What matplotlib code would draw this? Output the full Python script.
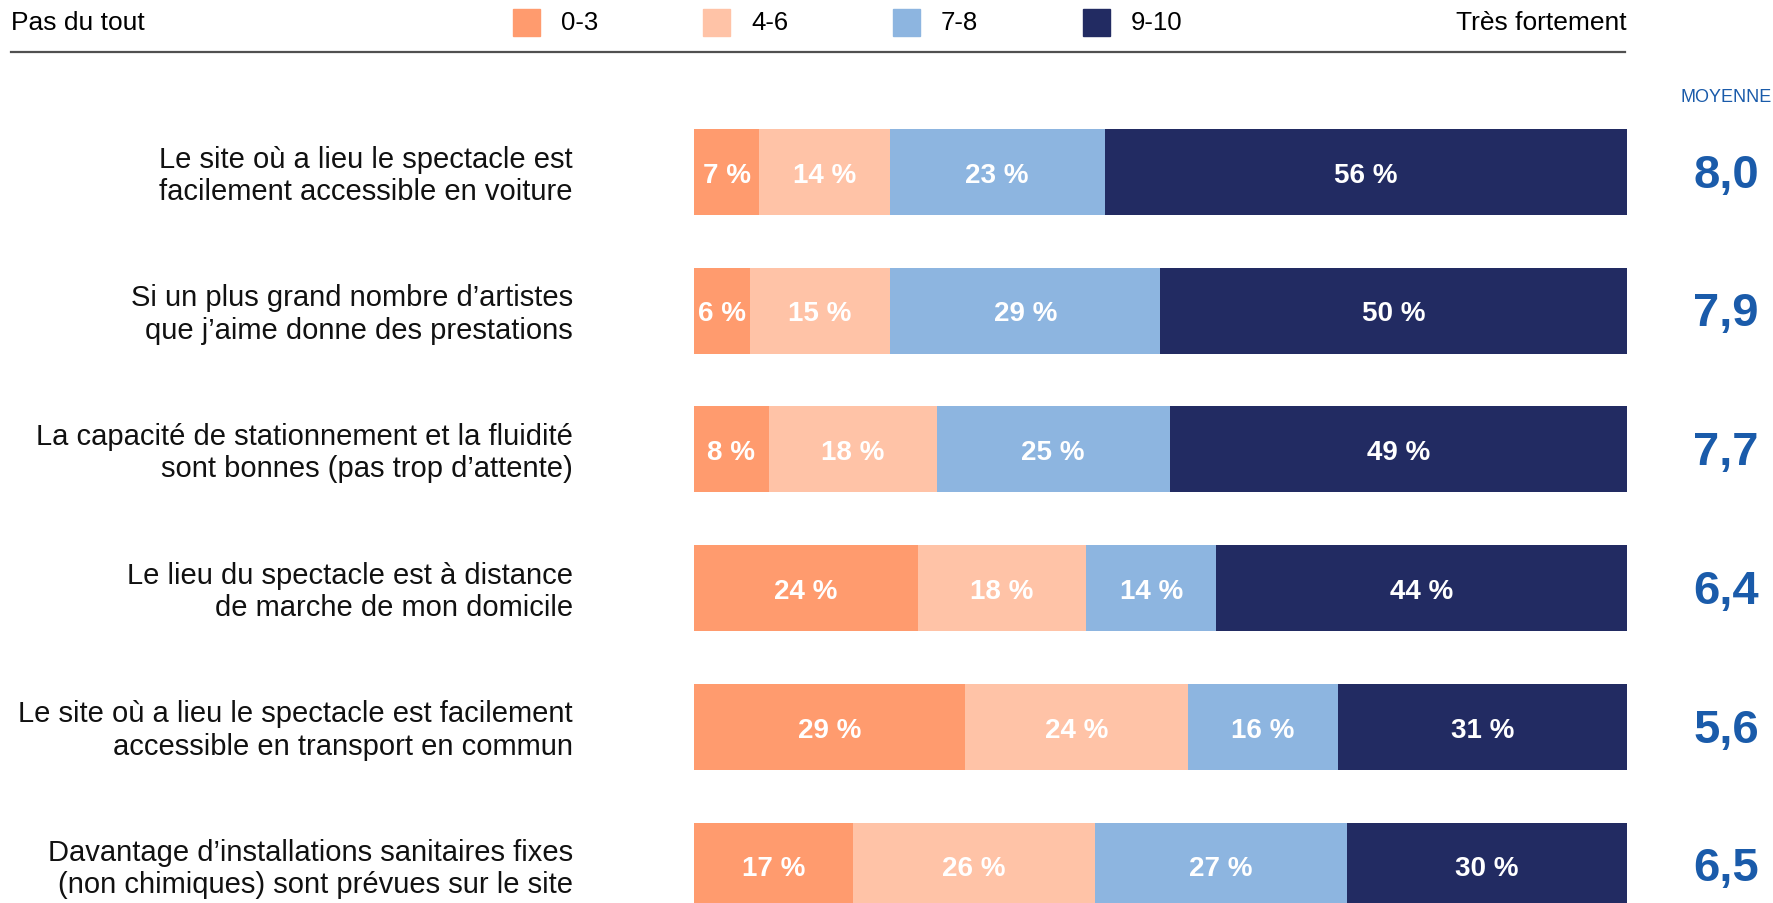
import numpy as np
import matplotlib.pyplot as plt
from matplotlib.patches import Rectangle
from matplotlib.lines import Line2D

plt.rcParams['font.family'] = ['Liberation Sans', 'DejaVu Sans']

# données
categories = [
    "Le site où a lieu le spectacle est\nfacilement accessible en voiture",
    "Si un plus grand nombre d’artistes\nque j’aime donne des prestations",
    "La capacité de stationnement et la fluidité\nsont bonnes (pas trop d’attente)",
    "Le lieu du spectacle est à distance\nde marche de mon domicile",
    "Le site où a lieu le spectacle est facilement\naccessible en transport en commun",
    "Davantage d’installations sanitaires fixes\n(non chimiques) sont prévues sur le site",
]
groups = ["0-3", "4-6", "7-8", "9-10"]
pct_03 = [7, 6, 8, 24, 29, 17]
pct_46 = [14, 15, 18, 18, 24, 26]
pct_78 = [23, 29, 25, 14, 16, 27]
pct_910 = [56, 50, 49, 44, 31, 30]
moyennes = ["8,0", "7,9", "7,7", "6,4", "5,6", "6,5"]

colors = ["#FF9B6E", "#FFC3A7", "#8DB5E0", "#222B62"]
blue_txt = "#1A5BAA"

W, H = 1774, 904
fig = plt.figure(figsize=(W / 100, H / 100), dpi=100)

# axe des barres (pixels 694 -> 1627 en x, toute la hauteur en y)
ax = fig.add_axes([694 / W, 0, (1627 - 694) / W, 1])
row_px = 138.7
first_px = 173
ax.set_ylim((H - first_px) / row_px, -first_px / row_px)
ax.set_xlim(0, 100)
ax.axis('off')

series = [pct_03, pct_46, pct_78, pct_910]
y = np.arange(len(categories))
left = np.zeros(len(categories))
for vals, c in zip(series, colors):
    vals = np.array(vals, dtype=float)
    ax.barh(y, vals, left=left, height=0.62, color=c, edgecolor='none')
    for yi, l, v in zip(y, left, vals):
        ax.text(l + v / 2, yi + 0.02, f"{int(v)} %", ha='center', va='center',
                color='white', fontsize=20, fontweight='bold')
    left += vals

px2x = 100 / (1627 - 694)
for yi, cat, m in zip(y, categories, moyennes):
    ax.text((573 - 694) * px2x, yi + 0.02, cat, ha='right', va='center',
            fontsize=21, color='#111111', clip_on=False, linespacing=1.2)
    ax.text((1759 - 694) * px2x, yi + 0.02, m, ha='right', va='center',
            fontsize=34, fontweight='bold', color=blue_txt, clip_on=False)

def fx(px):
    return px / W

def fy(py):
    return 1 - py / H

# en-tête
fig.text(fx(11), fy(23), "Pas du tout", ha='left', va='center', fontsize=19)
fig.text(fx(1627), fy(23), "Très fortement", ha='right', va='center', fontsize=19)
fig.add_artist(Line2D([fx(11), fx(1625)], [fy(53), fy(53)], color='#505050', lw=1.6))

sq_x = [513, 703, 893, 1083]
for sx, g, c in zip(sq_x, groups, colors):
    fig.add_artist(Rectangle((fx(sx), fy(37)), 27 / W, 27 / H, color=c,
                             transform=fig.transFigure))
    fig.text(fx(sx + 48), fy(23), g, ha='left', va='center', fontsize=18.5)

fig.text(fx(1772), fy(98), "MOYENNE", ha='right', va='center', fontsize=13,
         color=blue_txt)

fig.savefig("out.png", dpi=100)
